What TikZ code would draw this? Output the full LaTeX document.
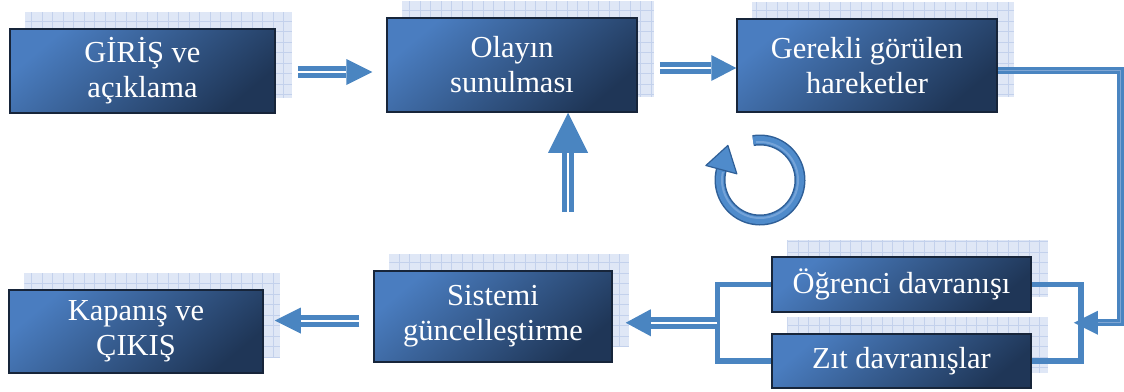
\documentclass[tikz,border=0pt]{standalone}
\usepackage{fontspec}
\setmainfont{Liberation Serif}
\usetikzlibrary{calc,backgrounds}

\definecolor{arrowblue}{HTML}{4A85C1}
\definecolor{cardtop}{HTML}{4A7DC0}
\definecolor{cardbot}{HTML}{1F3657}
\definecolor{cardedge}{HTML}{17253A}
\definecolor{gridfill}{HTML}{DFE7F6}
\definecolor{gridline}{HTML}{C3D1EC}
\definecolor{stripe}{HTML}{7FA6D4}
\definecolor{ringdark}{HTML}{2F5F97}
\definecolor{ringmid}{HTML}{4F8BCB}
\definecolor{ringlight}{HTML}{74A3D8}

\newcommand\cardfont{\fontsize{30.5}{35}\selectfont}

% block arrow: #1 head length, #2 half head width, #3 tail, #4 tip
\newcommand\blockarrow[4]{%
  \coordinate (ahbase) at ($(#4)!#1!(#3)$);
  \draw[shaft] (#3) -- (ahbase);
  \fill[arrowblue] (#4) -- ($(ahbase)!#2!90:(#4)$) -- ($(ahbase)!#2!-90:(#4)$) -- cycle;
}

\begin{document}
\begin{tikzpicture}[x=1pt,y=-1pt,
  card/.style={draw=cardedge, line width=1.5pt, top color=cardtop, bottom color=cardbot,
               shading angle=40, text=white, font=\cardfont, align=center, inner sep=0pt},
  shaft/.style={draw=arrowblue, line width=5pt, double=white, double distance=2pt},
  link/.style={draw=arrowblue, line width=5.5pt},
  feed/.style={draw=arrowblue, line width=3pt, double=stripe, double distance=1.2pt},
]
\useasboundingbox (0,0) rectangle (1124,391);

% process cards
\node[card, minimum width=265pt, minimum height=84pt] (intro)    at (142.5,71)  {GİRİŞ ve\\açıklama};
\node[card, minimum width=250pt, minimum height=94pt] (event)    at (512,65)    {Olayın\\sunulması};
\node[card, minimum width=260pt, minimum height=93pt] (action)   at (867,65.5)  {Gerekli görülen\\hareketler};
\node[card, minimum width=259pt, minimum height=55pt] (student)  at (901.5,284.5) {Öğrenci davranışı};
\node[card, minimum width=259pt, minimum height=54pt] (opposite) at (901.5,361) {Zıt davranışlar};
\node[card, minimum width=254pt, minimum height=83pt] (closing)  at (136,331.5) {Kapanış ve\\ÇIKIŞ};
\node[card, minimum width=238pt, minimum height=91pt] (update)   at (493,316.5) {Sistemi\\güncelleştirme};

% gridded backing sheets
\begin{scope}[on background layer]
  \foreach \n in {intro,event,action,student,opposite,closing,update} {
    \path ([shift={(16pt,16pt)}]\n.south west) coordinate (gsw)
          ([shift={(16pt,16pt)}]\n.north east) coordinate (gne);
    \fill[gridfill] (gsw) rectangle (gne);
    \begin{scope}
      \clip (gsw) rectangle (gne);
      \draw[gridline, line width=0.6pt, step=10.5pt] (gsw) grid (gne);
    \end{scope}
  }
\end{scope}

% top row arrows
\coordinate (a1tail) at ([xshift=22pt,yshift=-1pt]intro.east);
\coordinate (a1x) at ([xshift=-14pt]event.west);
\coordinate (a1tip) at (a1x |- a1tail);
\blockarrow{26pt}{13pt}{a1tail}{a1tip}

\coordinate (a2tail) at ([xshift=22pt,yshift=-3pt]event.east);
\coordinate (a2tip) at (action.west |- a2tail);
\blockarrow{25pt}{13pt}{a2tail}{a2tip}

% return arrow into the event card
\coordinate (uptail) at (568,212);
\coordinate (uptip) at ([xshift=56pt]event.south);
\blockarrow{40pt}{20pt}{uptail}{uptip}

% brackets around the two behaviour cards
\draw[link] (student.west) -- ++(-54,0) |- (opposite.west);
\draw[link] (student.east) -- ++(49,0) |- (opposite.east);

% feedback from the actions card to the behaviour cards
\coordinate (fbtip) at ($(student.east)!0.5!(opposite.east)+(42,0)$);
\draw[feed] ([yshift=-5pt]action.east) -| ($(fbtip)+(47,0)$) -- ($(fbtip)+(23,0)$);
\fill[arrowblue] (fbtip) -- ($(fbtip)+(24,-12)$) -- ($(fbtip)+(24,12)$) -- cycle;

% bottom row arrows
\coordinate (a3tail) at ($(student.west)!0.5!(opposite.west)+(-54,0)$);
\coordinate (a3x) at ([xshift=13pt]update.east);
\coordinate (a3tip) at (a3x |- a3tail);
\blockarrow{25pt}{13.5pt}{a3tail}{a3tip}

\coordinate (a4tail) at ([xshift=-14pt,yshift=-4pt]update.west);
\coordinate (a4x) at ([xshift=11pt]closing.east);
\coordinate (a4tip) at (a4x |- a4tail);
\blockarrow{26pt}{13pt}{a4tail}{a4tip}

% cycle symbol
\coordinate (cyc) at (760,180);
\draw[ringdark, line width=11pt] plot[domain=-100:195, samples=80] ({760+40*cos(\x)},{180+40*sin(\x)});
\draw[ringmid, line width=8pt] plot[domain=-100:195, samples=80] ({760+40*cos(\x)},{180+40*sin(\x)});
\draw[ringlight, line width=2pt] plot[domain=-96:192, samples=80] ({760+38*cos(\x)},{180+38*sin(\x)});
\coordinate (cb) at ($(cyc)+(195:40)$);
\coordinate (ctip) at ($(cb)+(6.5,-24.2)$);
\filldraw[fill=ringmid, draw=ringdark, line width=1.2pt, line join=round]
  (ctip) -- ($(cb)!16pt!90:(ctip)$) -- ($(cb)!16pt!-90:(ctip)$) -- cycle;
\end{tikzpicture}
\end{document}
